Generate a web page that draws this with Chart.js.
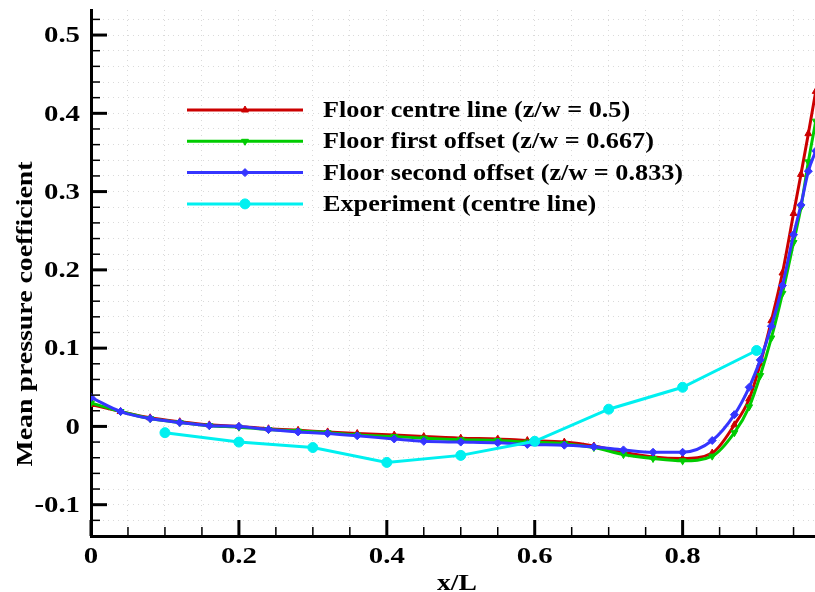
<!DOCTYPE html>
<html>
<head>
<meta charset="utf-8">
<script src="https://cdn.jsdelivr.net/npm/chart.js@4.4.0/dist/chart.umd.min.js"></script>
<style>
  html, body { margin: 0; padding: 0; background: #fff; }
</style>
</head>
<body>
<canvas id="cpChart" width="815" height="592"></canvas>

<script type="text/JavaScript">

//------------------------------------------------------------------------------------------
// Data (read off the reference picture)
//------------------------------------------------------------------------------------------

// x/L stations of the CFD curves
var xCfd = [0, 0.04, 0.08, 0.12, 0.16, 0.2, 0.24, 0.28, 0.32, 0.36, 0.41, 0.45, 0.5, 0.55, 0.59,
            0.64, 0.68, 0.72, 0.76, 0.8, 0.84, 0.87, 0.89, 0.905, 0.92, 0.935, 0.95, 0.96, 0.97, 0.98];

// Floor centre line (z/w = 0.5)
var cpCentre = [0.028, 0.019, 0.011, 0.006, 0.002, 0.0, -0.003, -0.005, -0.007, -0.009, -0.011, -0.013, -0.015, -0.016, -0.018,
                -0.020, -0.025, -0.033, -0.039, -0.041, -0.034, 0.002, 0.035, 0.080, 0.135, 0.196, 0.272, 0.322, 0.374, 0.428];

// Floor first offset (z/w = 0.667)
var cpFirst = [0.030, 0.019, 0.010, 0.005, 0.001, -0.001, -0.004, -0.006, -0.008, -0.011, -0.013, -0.015, -0.017, -0.018, -0.020,
               -0.022, -0.027, -0.036, -0.041, -0.044, -0.038, -0.008, 0.025, 0.065, 0.113, 0.170, 0.235, 0.280, 0.338, 0.390];

// Floor second offset (z/w = 0.833)
var cpSecond = [0.037, 0.019, 0.010, 0.005, 0.001, 0.0, -0.004, -0.007, -0.009, -0.012, -0.016, -0.019, -0.020, -0.021, -0.023,
                -0.024, -0.026, -0.030, -0.033, -0.033, -0.018, 0.015, 0.050, 0.085, 0.128, 0.180, 0.245, 0.283, 0.326, 0.352];

// Experiment (centre line)
var xExp  = [0.1, 0.2, 0.3, 0.4, 0.5, 0.6, 0.7, 0.8, 0.9];
var cpExp = [-0.008, -0.020, -0.027, -0.046, -0.037, -0.019, 0.022, 0.050, 0.097];

var seriesLabels = ["Floor centre line (z/w = 0.5)", "Floor first offset (z/w = 0.667)",
                    "Floor second offset (z/w = 0.833)", "Experiment (centre line)"];

// labelled ticks
var xTickLabels = [0, 0.2, 0.4, 0.6, 0.8];
var yTickLabels = [-0.1, 0, 0.1, 0.2, 0.3, 0.4, 0.5];

//------------------------------------------------------------------------------------------
// Helpers
//------------------------------------------------------------------------------------------

var FONT = '"Times New Roman", "Liberation Serif", serif';

function toPoints(xs, ys) {
    var pts = [];
    for (var i = 0; i < xs.length; i++) pts.push({x: xs[i], y: ys[i]});
    return pts;
}

// tick values every step between lo and hi (major + minor)
function tickList(lo, hi, step) {
    var out = [];
    for (var v = lo; v <= hi + 1e-9; v += step) out.push({value: Math.round(v * 1000) / 1000});
    return out;
}

function isLabelled(v, labels) {
    for (var i = 0; i < labels.length; i++) {
        if (Math.abs(labels[i] - v) < 1e-6) return true;
    }
    return false;
}

function fmt(v) {
    if (Math.abs(v) < 1e-9) return "0";
    return String(Math.round(v * 10) / 10);
}

// the Tecplot lettering is wider than plain Times, stretch it along the text
function wideText(ctx, text, x, y, sx, angle) {
    ctx.save();
    ctx.translate(x, y);
    if (angle) ctx.rotate(angle);
    ctx.scale(sx, 1);
    ctx.fillText(text, 0, 0);
    ctx.restore();
}

//------------------------------------------------------------------------------------------
// Plugins: inward ticks + labels, axis titles, legend inside the plot
//------------------------------------------------------------------------------------------

var tickMarks = {
    id: 'tickMarks',
    afterDatasetsDraw: function(chart) {
        var ctx = chart.ctx, area = chart.chartArea;
        var xs = chart.scales.x, ys = chart.scales.y;
        ctx.save();
        ctx.strokeStyle = '#000';
        xs.ticks.forEach(function(t) {
            var px = xs.getPixelForValue(t.value);
            var major = isLabelled(t.value, xTickLabels);
            ctx.lineWidth = major ? 3 : 1.5;
            ctx.beginPath();
            ctx.moveTo(px, area.bottom);
            ctx.lineTo(px, area.bottom - (major ? 16 : 9));
            ctx.stroke();
        });
        ys.ticks.forEach(function(t) {
            var py = ys.getPixelForValue(t.value);
            var major = isLabelled(t.value, yTickLabels);
            ctx.lineWidth = major ? 3 : 1.5;
            ctx.beginPath();
            ctx.moveTo(area.left, py);
            ctx.lineTo(area.left + (major ? 16 : 9), py);
            ctx.stroke();
        });

        // tick labels
        ctx.fillStyle = '#000';
        ctx.font = 'bold 24px ' + FONT;
        ctx.textBaseline = 'middle';
        ctx.textAlign = 'center';
        xTickLabels.forEach(function(v) {
            wideText(ctx, fmt(v), xs.getPixelForValue(v), 557, 1.2, 0);
        });
        ctx.textAlign = 'right';
        yTickLabels.forEach(function(v) {
            wideText(ctx, fmt(v), 80, ys.getPixelForValue(v) + 1, 1.2, 0);
        });
        ctx.restore();
    }
};

var axisTitles = {
    id: 'axisTitles',
    afterDraw: function(chart) {
        var ctx = chart.ctx;
        ctx.save();
        ctx.fillStyle = '#000';
        ctx.font = 'bold 23px ' + FONT;
        ctx.textAlign = 'center';
        ctx.textBaseline = 'middle';
        wideText(ctx, 'x/L', 457, 584, 1.2, 0);
        wideText(ctx, 'Mean pressure coefficient', 26, 314, 1.21, -Math.PI / 2);
        ctx.restore();
    }
};

var plotLegend = {
    id: 'plotLegend',
    afterDraw: function(chart) {
        var ctx = chart.ctx;
        var legendOrder = [0, 1, 2, 3];
        ctx.save();
        ctx.font = 'bold 23px ' + FONT;
        ctx.textBaseline = 'middle';
        ctx.textAlign = 'left';
        legendOrder.forEach(function(di, row) {
            var ds = chart.data.datasets[di];
            var y = 110 + row * 31.3;
            ctx.strokeStyle = ds.borderColor;
            ctx.fillStyle = ds.borderColor;
            ctx.lineWidth = 3;
            ctx.beginPath();
            ctx.moveTo(187, y);
            ctx.lineTo(303, y);
            ctx.stroke();
            ctx.lineWidth = 1;
            Chart.helpers.drawPoint(ctx, {
                pointStyle: ds.pointStyle,
                rotation: ds.pointRotation || 0,
                radius: ds.pointRadius,
                borderWidth: 1
            }, 245, y);
            ctx.fillStyle = '#000';
            wideText(ctx, ds.label, 323, y + 1, 1.14, 0);
        });
        ctx.restore();
    }
};

//------------------------------------------------------------------------------------------
// Chart
//------------------------------------------------------------------------------------------

function cfdSet(label, ys, color, style, rot, order) {
    return {
        label: label,
        data: toPoints(xCfd, ys),
        borderColor: color,
        backgroundColor: color,
        pointBackgroundColor: color,
        pointBorderColor: color,
        borderWidth: 3,
        pointStyle: style,
        pointRotation: rot,
        pointRadius: 4,
        pointBorderWidth: 1,
        cubicInterpolationMode: 'monotone',
        order: order
    };
}

var ctx = document.getElementById('cpChart').getContext('2d');
var cpChart = new Chart(ctx, {
    type: 'scatter',
    data: {
        datasets: [
            cfdSet(seriesLabels[0], cpCentre, '#cc0000', 'triangle', 0, 3),
            cfdSet(seriesLabels[1], cpFirst, '#00cc00', 'triangle', 180, 2),
            cfdSet(seriesLabels[2], cpSecond, '#3535ff', 'rectRot', 0, 1),
            {
                label: seriesLabels[3],
                data: toPoints(xExp, cpExp),
                borderColor: '#00f0f0',
                backgroundColor: '#00f0f0',
                pointBackgroundColor: '#00f0f0',
                pointBorderColor: '#00f0f0',
                borderWidth: 3,
                pointStyle: 'circle',
                pointRadius: 5,
                pointBorderWidth: 1,
                order: 0
            }
        ]
    },
    options: {
        responsive: false,
        animation: false,
        devicePixelRatio: 1,
        showLine: true,
        layout: { autoPadding: false, padding: { top: 10, right: 0, left: 0, bottom: 0 } },
        plugins: {
            legend: { display: false },
            tooltip: { enabled: false }
        },
        scales: {
            x: {
                type: 'linear',
                min: 0,
                max: 0.979,
                afterFit: function(s) {
                    s.height = 56;
                    s.paddingLeft = 0; s.paddingRight = 0;
                },
                afterBuildTicks: function(s) { s.ticks = tickList(0, 0.95, 0.05); },
                grid: { color: '#dadada', lineWidth: 1, drawTicks: false },
                border: { display: true, color: '#000', width: 3, dash: [1, 4] },
                ticks: { display: false }
            },
            y: {
                type: 'linear',
                min: -0.14,
                max: 0.532,
                afterFit: function(s) {
                    s.width = 91;
                    s.paddingTop = 0; s.paddingBottom = 0;
                },
                afterBuildTicks: function(s) { s.ticks = tickList(-0.14, 0.52, 0.02); },
                grid: { color: '#dadada', lineWidth: 1, drawTicks: false },
                border: { display: true, color: '#000', width: 3, dash: [1, 4] },
                ticks: { display: false }
            }
        }
    },
    plugins: [tickMarks, axisTitles, plotLegend]
});

</script>
</body>
</html>
